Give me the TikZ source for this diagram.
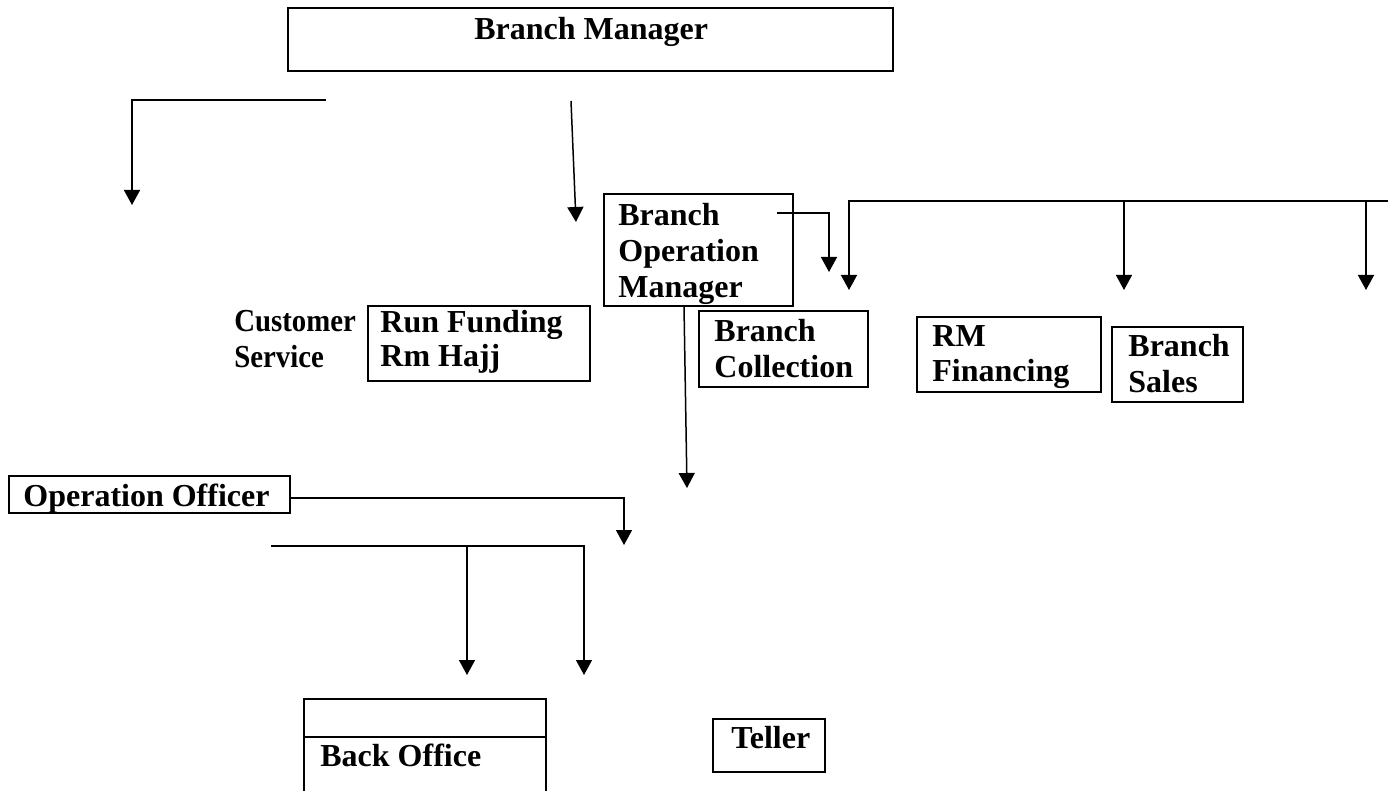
\documentclass[tikz,border=0pt]{standalone}
\usepackage{fontspec}
\setmainfont{Liberation Serif}
\usetikzlibrary{arrows.meta,fit}
\begin{document}
\begin{tikzpicture}[x=0.5pt,y=-0.5pt,
  boxst/.style={draw=black,line width=1.1pt,inner sep=0pt,rectangle},
  txt/.style={anchor=base west,inner sep=0pt,font=\fontsize{16pt}{17.5pt}\selectfont\bfseries},
  narrowtxt/.style={txt,xscale=0.9},
  conn/.style={draw=black,line width=0.75pt},
  arr/.style={conn,-{Triangle[width=8pt,length=7.5pt]}}]
\clip (0,0) rectangle (1388,791);
\fill[white] (0,0) rectangle (1388,791);
% boxes
\node[boxst,fit={(288,8) (893,71)}] (bm) {};
\node[boxst,fit={(604,194) (793,306)}] (bom) {};
\node[boxst,fit={(368,306) (590,381)}] (rf) {};
\node[boxst,fit={(699,311) (868,387)}] (bc) {};
\node[boxst,fit={(917,317) (1101,392)}] (rmf) {};
\node[boxst,fit={(1112,327) (1243,402)}] (bs) {};
\node[boxst,fit={(9,476) (290,513)}] (oo) {};
\node[boxst,fit={(304,699) (546,800)}] (bo) {};
\node[boxst,fit={(713,719) (825,772)}] (tel) {};
\draw[line width=1.1pt] (bo.west |- 0,737) -- (bo.east |- 0,737);
% texts
\node[txt] (tbm) at (474,40) {Branch Manager};
\node[txt] (tbom1) at (618,226) {Branch};
\node[txt] (tbom2) at (618,262) {Operation};
\node[txt] (tbom3) at (618,298) {Manager};
\node[narrowtxt] (tcs1) at (234,332) {Customer};
\node[narrowtxt] (tcs2) at (234,368) {Service};
\node[txt] (trf1) at (380,333) {Run Funding};
\node[txt] (trf2) at (380,367) {Rm Hajj};
\node[txt] (tbc1) at (714,342) {Branch};
\node[txt] (tbc2) at (714,378) {Collection};
\node[txt] (trm1) at (932,347) {RM};
\node[txt] (trm2) at (932,382) {Financing};
\node[txt] (tbs1) at (1128,357) {Branch};
\node[txt] (tbs2) at (1128,393) {Sales};
\node[txt] (too) at (23,506) {Operation Officer};
\node[txt] (tbo) at (320,766) {Back Office};
\node[txt] (ttel) at (731,748) {Teller};
% connector end points
\coordinate (a1s) at (326,100);
\coordinate (a1e) at (132,205);
\coordinate (a2s) at (571,101);
\coordinate (a2e) at (576,222);
\coordinate (a3s) at (777,213);
\coordinate (a3e) at (829,272);
\coordinate (busr) at (1388,201);
\coordinate (a4e) at (849,290);
\coordinate (a5s) at (1124,201);
\coordinate (a5e) at (1124,290);
\coordinate (a6s) at (1366,201);
\coordinate (a6e) at (1366,290);
\coordinate (a7s) at (684,306);
\coordinate (a7e) at (687,488);
\coordinate (a8e) at (624,545);
\coordinate (lbl) at (271,546);
\coordinate (a9e) at (584,675);
\coordinate (a10s) at (467,546);
\coordinate (a10e) at (467,675);
% connectors
\draw[arr] (a1s) -| (a1e);
\draw[arr] (a2s) -- (a2e);
\draw[arr] (a3s) -| (a3e);
\draw[arr] (busr) -| (a4e);
\draw[arr] (a5s) -- (a5e);
\draw[arr] (a6s) -- (a6e);
\draw[arr] (a7s) -- (a7e);
\draw[arr] (oo.east |- 0,498) -| (a8e);
\draw[arr] (lbl) -| (a9e);
\draw[arr] (a10s) -- (a10e);
\end{tikzpicture}
\end{document}
